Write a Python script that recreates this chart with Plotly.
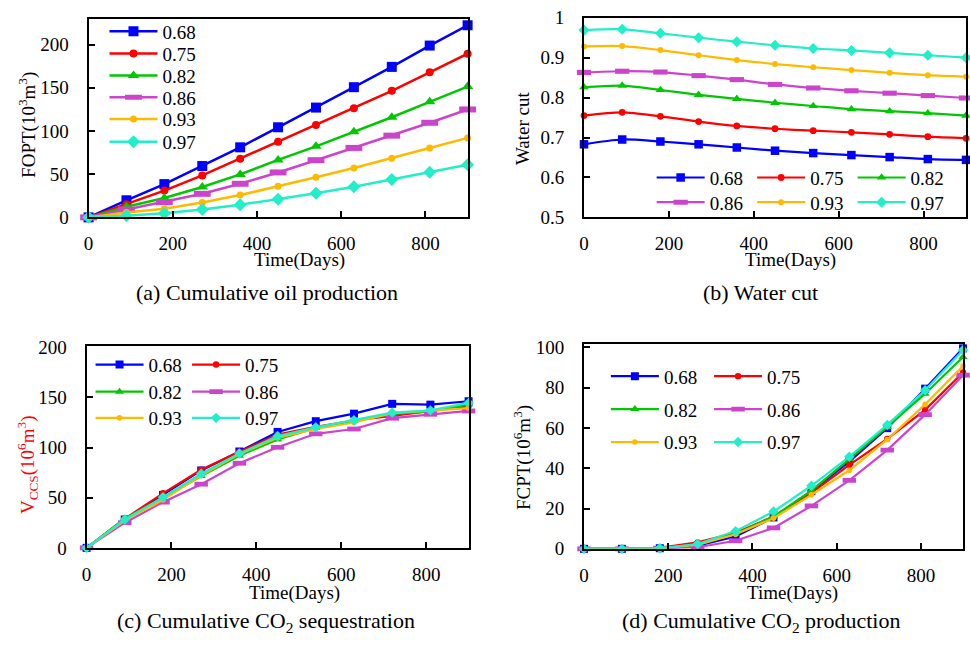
import plotly.graph_objects as go

W, H = 970, 649
FONT = "Liberation Serif, Times New Roman, serif"

# Time axis shared by all four panels
days = [0, 90, 180, 270, 360, 450, 540, 630, 720, 810, 900]
ratios = ["0.68", "0.75", "0.82", "0.86", "0.93", "0.97"]

# (a) cumulative oil production FOPT, 10^3 m^3
fopt_068 = [0, 19.8, 38.5, 59.4, 81.1, 104.3, 127.1, 150.7, 174.2, 198.9, 222.4]
fopt_075 = [0, 15.3, 31.0, 48.6, 68.0, 87.5, 106.9, 126.4, 146.5, 167.9, 189.5]
fopt_082 = [0, 12.3, 22.4, 35.1, 49.7, 66.5, 82.2, 99.1, 115.9, 133.8, 151.4]
fopt_086 = [0, 9.0, 17.6, 27.3, 38.9, 52.0, 66.2, 80.4, 94.6, 109.5, 124.9]
fopt_093 = [0, 5.6, 10.1, 17.2, 25.8, 35.9, 46.4, 57.2, 68.4, 80.4, 92.0]
fopt_097 = [0, 1.9, 4.9, 9.0, 14.6, 20.9, 28.0, 35.5, 43.7, 52.3, 60.9]

# (b) water cut
wc_068 = [0.683, 0.695, 0.690, 0.683, 0.675, 0.667, 0.661, 0.656, 0.651, 0.646, 0.644]
wc_075 = [0.755, 0.763, 0.753, 0.740, 0.729, 0.722, 0.717, 0.713, 0.708, 0.702, 0.698]
wc_082 = [0.826, 0.830, 0.819, 0.807, 0.797, 0.787, 0.779, 0.771, 0.766, 0.761, 0.755]
wc_086 = [0.863, 0.866, 0.864, 0.855, 0.845, 0.833, 0.824, 0.817, 0.811, 0.805, 0.799]
wc_093 = [0.928, 0.929, 0.919, 0.906, 0.894, 0.884, 0.876, 0.869, 0.862, 0.856, 0.852]
wc_097 = [0.969, 0.971, 0.961, 0.950, 0.940, 0.931, 0.923, 0.918, 0.912, 0.906, 0.900]

# (c) cumulative CO2 sequestration V_CCS, 10^6 m^3
vccs_068 = [0, 28.3, 52.8, 77.2, 96.1, 115.6, 126.3, 133.8, 143.6, 142.8, 146.2]
vccs_075 = [0, 29.0, 54.4, 77.9, 95.8, 113.0, 120.8, 127.0, 131.6, 136.5, 141.4]
vccs_082 = [0, 29.3, 49.5, 71.7, 91.9, 108.1, 119.5, 126.7, 133.5, 136.1, 143.0]
vccs_086 = [0, 25.1, 45.6, 63.5, 84.4, 100.3, 113.7, 118.5, 129.3, 133.2, 136.5]
vccs_093 = [0, 27.4, 47.9, 72.3, 93.5, 109.8, 118.5, 125.0, 134.2, 137.1, 139.4]
vccs_097 = [0, 28.3, 50.5, 73.9, 94.1, 111.4, 120.2, 127.3, 134.8, 137.1, 144.6]

# (d) cumulative CO2 production FCPT, 10^6 m^3
fcpt_068 = [0, 0, 0.3, 1.6, 6.1, 15.6, 28.6, 43.3, 59.9, 79.5, 99.5]
fcpt_075 = [0, 0, 0.5, 3.2, 8.0, 16.0, 27.8, 41.7, 54.6, 69.0, 87.5]
fcpt_082 = [0, 0, 0.3, 1.9, 7.5, 16.0, 28.9, 44.5, 60.5, 77.0, 95.2]
fcpt_086 = [0, 0, 0.3, 0.8, 4.0, 10.4, 21.3, 34.0, 49.0, 66.6, 86.2]
fcpt_093 = [0, 0, 0.3, 2.1, 7.2, 15.2, 26.8, 39.0, 54.3, 71.7, 90.7]
fcpt_097 = [0, 0, 0.3, 2.4, 8.8, 18.5, 31.3, 45.7, 61.5, 78.7, 98.7]

fopt = [fopt_068, fopt_075, fopt_082, fopt_086, fopt_093, fopt_097]
water_cut = [wc_068, wc_075, wc_082, wc_086, wc_093, wc_097]
vccs = [vccs_068, vccs_075, vccs_082, vccs_086, vccs_093, vccs_097]
fcpt = [fcpt_068, fcpt_075, fcpt_082, fcpt_086, fcpt_093, fcpt_097]

colors = ["#0000FF", "#FF0000", "#00C800", "#CC44CC", "#FFBA00", "#22EEC8"]
symbols = ["square", "circle", "triangle-up", "line-ew", "circle", "diamond"]
base_sizes = [10, 8, 10, 12, 7, 10]


def px_x(p):
    return p / W


def px_y(p):
    return 1 - p / H


# panel geometry: (x0, x1, ytop, ybottom) in pixels
panels = [
    dict(box=(84, 465, 10, 215), yrange=[0, 230], ydtick=50, data=fopt, scale=1.0, spline=False),
    dict(box=(582, 966, 9, 215), yrange=[0.5, 1.0], ydtick=0.1, data=water_cut, scale=0.85, spline=True),
    dict(box=(82, 466, 348, 556), yrange=[0, 201], ydtick=50, data=vccs, scale=0.8, spline=False),
    dict(box=(582, 963, 346, 557), yrange=[0, 101.5], ydtick=20, data=fcpt, scale=0.8, spline=False),
]

# legend grid per panel: row centres (y px), column line starts (x px)
legend_grids = [
    dict(rows=[23, 46, 68.7, 91.3, 113.7, 137], cols=[110]),
    dict(rows=[174, 199.5], cols=[660, 761, 862]),
    dict(rows=[367, 395, 422], cols=[96, 193]),
    dict(rows=[379, 413, 447], cols=[614, 717.7]),
]

ITEMW = 48
fig = go.Figure()
layout = {}
legend_of = {}
count = 0

# one small legend per entry so each sits exactly on its grid cell
for pi, g in enumerate(legend_grids):
    ncol = len(g["cols"])
    for i in range(len(ratios)):
        r, c = divmod(i, ncol)
        count += 1
        name = "legend" if count == 1 else f"legend{count}"
        legend_of[(pi, i)] = name
        layout[name] = dict(
            x=px_x(g["cols"][c] - 10), xanchor="left",
            y=px_y(g["rows"][r]), yanchor="middle",
            bgcolor="rgba(0,0,0,0)", borderwidth=0,
            font=dict(family=FONT, size=19, color="black"),
            itemwidth=ITEMW,
            itemclick=False, itemdoubleclick=False,
        )

for pi, p in enumerate(panels):
    x0, x1, yt, yb = p["box"]
    ax = "" if pi == 0 else str(pi + 1)
    for i, series in enumerate(p["data"]):
        size = base_sizes[i] * p["scale"]
        if symbols[i] == "line-ew":
            marker = dict(symbol="line-ew", size=size, line=dict(width=6 * p["scale"], color=colors[i]))
        else:
            marker = dict(symbol=symbols[i], size=size, color=colors[i], line=dict(width=0))
        fig.add_trace(go.Scatter(
            x=days, y=series, name=ratios[i], mode="lines+markers",
            line=dict(color=colors[i], width=2.5 if pi == 0 else 2.2,
                      shape="spline" if p["spline"] else "linear", smoothing=0.8),
            marker=marker, cliponaxis=False,
            xaxis="x" + ax, yaxis="y" + ax,
            legend=legend_of[(pi, i)],
        ))
    common = dict(showline=True, linecolor="black", linewidth=2, mirror=True,
                  showgrid=False, zeroline=False, ticks="inside", ticklen=6,
                  tickwidth=1.5, tickcolor="black",
                  tickfont=dict(family=FONT, size=19, color="black"))
    layout["xaxis" + ax] = dict(common, domain=[px_x(x0), px_x(x1)], range=[0, 900],
                                tickvals=[0, 200, 400, 600, 800], ticklabelstandoff=8,
                                anchor="y" + ax)
    layout["yaxis" + ax] = dict(common, domain=[px_y(yb), px_y(yt)], range=p["yrange"],
                                dtick=p["ydtick"], tick0=p["yrange"][0], ticklabelstandoff=14,
                                anchor="x" + ax)

annotations = []


def text_at(txt, x, y, size=19, angle=0, color="black"):
    annotations.append(dict(text=txt, x=px_x(x), y=px_y(y), xref="paper", yref="paper",
                            xanchor="center", yanchor="middle", showarrow=False,
                            textangle=angle, font=dict(family=FONT, size=size, color=color)))


# axis titles
for (x, y) in [(296, 259), (789.5, 259), (290.5, 603), (791.8, 603)]:
    text_at("Time(Days)", x, y)
text_at("FOPT(10<sup>3</sup>m<sup>3</sup>)", 22.7, 120, angle=-90)
text_at("Water cut", 520, 122.5, angle=-90)
text_at("V<sub>CCS</sub>(10<sup>6</sup>m<sup>3</sup>)", 22.7, 470, angle=-90, color="#FF0000")
text_at("FCPT(10<sup>6</sup>m<sup>3</sup>)", 520, 463, angle=-90)

# panel captions
text_at("(a) Cumulative oil production", 263, 293, size=22)
text_at("(b) Water cut", 759, 293, size=22)
text_at("(c) Cumulative CO<sub>2</sub> sequestration", 262, 633, size=22)
text_at("(d) Cumulative CO<sub>2</sub> production", 760, 633, size=22)

fig.update_layout(
    width=W, height=H, margin=dict(l=0, r=0, t=0, b=0),
    paper_bgcolor="white", plot_bgcolor="white",
    showlegend=True, annotations=annotations,
    font=dict(family=FONT, color="black"),
    **layout,
)

fig.write_html("out.html")
